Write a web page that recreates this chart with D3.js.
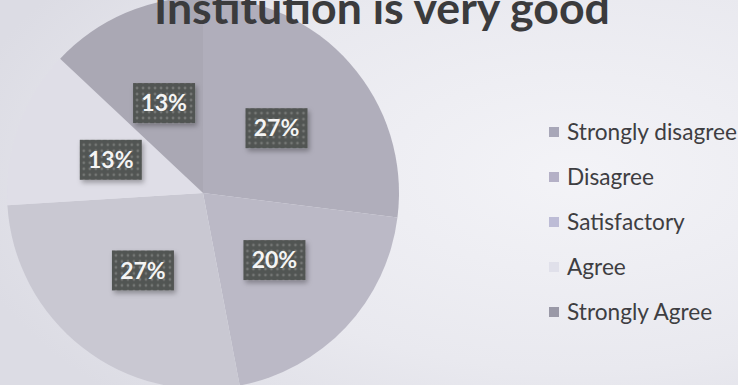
<!DOCTYPE html>
<html>
<head>
<meta charset="utf-8">
<script src="https://cdn.jsdelivr.net/npm/d3@7"></script>
<style>
  html, body { margin: 0; padding: 0; background: #e9e9ef; }
  svg { display: block; }
</style>
</head>
<body>
<svg id="chart" width="738" height="385"></svg>
<script>
// Survey responses: "Institution is very good"
const categories = ["Strongly disagree", "Disagree", "Satisfactory", "Agree", "Strongly Agree"];
const values = [27, 20, 27, 13, 13];
const valueLabels = ["27%", "20%", "27%", "13%", "13%"];
const titleText = "Institution is very good";

const sliceColors = ["#b0aebb", "#bbb9c6", "#c9c8d2", "#dfdee7", "#aaa8b4"];
const swatchColors = ["#a8a7b8", "#b4b0c6", "#bdbcd6", "#e0e0ea", "#9a99a7"];

const width = 738, height = 385;
const svg = d3.select("#chart");
const defs = svg.append("defs");

// Page background: soft light grey, brighter towards the right
const bg = defs.append("radialGradient").attr("id", "bgGrad")
  .attr("cx", 0.78).attr("cy", 0.45).attr("r", 0.85);
bg.append("stop").attr("offset", "0%").attr("stop-color", "#f3f3f7");
bg.append("stop").attr("offset", "60%").attr("stop-color", "#e9e9ef");
bg.append("stop").attr("offset", "100%").attr("stop-color", "#dcdce4");
svg.append("rect").attr("width", width).attr("height", height).attr("fill", "url(#bgGrad)");

// Dotted fill for the value boxes
const pat = defs.append("pattern").attr("id", "dots")
  .attr("patternUnits", "userSpaceOnUse").attr("width", 6).attr("height", 6);
pat.append("rect").attr("width", 6).attr("height", 6).attr("fill", "#515452");
pat.append("circle").attr("cx", 3).attr("cy", 3).attr("r", 1.4).attr("fill", "#757876");

const shadow = defs.append("filter").attr("id", "boxShadow")
  .attr("x", "-30%").attr("y", "-30%").attr("width", "160%").attr("height", "170%");
shadow.append("feDropShadow").attr("dx", 2).attr("dy", 3).attr("stdDeviation", 2.5)
  .attr("flood-color", "#000").attr("flood-opacity", 0.3);

// Pie
const cx = 203, cy = 193, radius = 196;
const color = d3.scaleOrdinal().domain(categories).range(sliceColors);
const swatch = d3.scaleOrdinal().domain(categories).range(swatchColors);

const pie = d3.pie().sort(null).value(d => d.value);
const arcs = pie(categories.map((c, i) => ({ name: c, value: values[i], label: valueLabels[i] })));
const arc = d3.arc().innerRadius(0).outerRadius(radius);
const labelArc = d3.arc().innerRadius(radius * 0.5).outerRadius(radius * 0.5);

const g = svg.append("g").attr("transform", `translate(${cx},${cy})`);
g.selectAll("path.slice").data(arcs).join("path")
  .attr("class", "slice")
  .attr("d", arc)
  .attr("fill", d => color(d.data.name));

// Value boxes
const boxW = 62, boxH = 40;
const lab = g.selectAll("g.lab").data(arcs).join("g")
  .attr("class", "lab")
  .attr("transform", d => { const [x, y] = labelArc.centroid(d); return `translate(${x},${y})`; });
lab.append("rect")
  .attr("x", -boxW / 2).attr("y", -boxH / 2).attr("width", boxW).attr("height", boxH)
  .attr("fill", "url(#dots)").attr("filter", "url(#boxShadow)");
lab.append("text")
  .attr("text-anchor", "middle").attr("dy", "0.36em")
  .attr("font-family", "Lato, 'Open Sans', sans-serif").attr("font-weight", 700)
  .attr("font-size", 23).attr("fill", "#f4f4f4")
  .text(d => d.data.label);

// Title, fitted to its printed width
const title = svg.append("text")
  .attr("x", 382).attr("y", 24).attr("text-anchor", "middle")
  .attr("font-family", "Lato, 'Open Sans', sans-serif").attr("font-weight", 700)
  .attr("font-size", 44).attr("fill", "#3b3b3d")
  .text(titleText);
const tw = title.node().getComputedTextLength();
title.attr("font-size", 44 * 456 / tw);

// Legend
const legendY = d3.scalePoint().domain(categories).range([132, 312]);
const leg = svg.append("g").selectAll("g").data(categories).join("g")
  .attr("transform", d => `translate(549,${legendY(d)})`);
leg.append("rect").attr("x", 0).attr("y", -5).attr("width", 10).attr("height", 10)
  .attr("fill", d => swatch(d));
const legText = leg.append("text").attr("x", 18).attr("dy", "0.35em")
  .attr("font-family", "Lato, 'Open Sans', sans-serif")
  .attr("font-size", 22).attr("fill", "#3e3e42")
  .text(d => d);
const lw = legText.filter(d => d === "Strongly disagree").node().getComputedTextLength();
legText.attr("font-size", 22 * 170 / lw);
</script>
</body>
</html>
